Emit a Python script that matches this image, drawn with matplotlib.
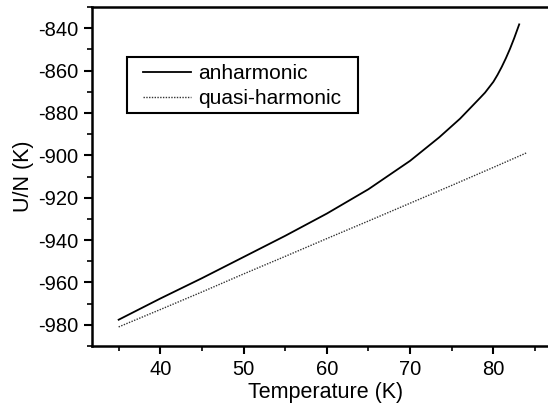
import matplotlib
matplotlib.use("Agg")
import matplotlib.pyplot as plt
from matplotlib.patches import Rectangle
from matplotlib.ticker import MultipleLocator

# values
T_anh = [35, 40, 45, 50, 55, 60, 65, 70, 73.5, 76, 78.4, 79, 80, 80.5,
         81, 81.5, 82, 82.5, 83.1]
U_anh = [-977.6, -967.6, -958.0, -948.0, -938.0, -927.5, -916.0, -902.6,
         -891.5, -882.7, -872.9, -870.4, -865.3, -862.0, -858.3, -854.2,
         -849.7, -844.7, -838.2]

T_qh = [35, 40, 45, 50, 55, 60, 65, 70, 75, 80, 84]
U_qh = [-981.0, -972.8, -964.5, -956.0, -947.7, -939.3, -931.0, -922.6,
        -914.2, -905.7, -898.8]

labels = ["anharmonic", "quasi-harmonic"]

plt.rcParams["font.family"] = ["Liberation Sans", "DejaVu Sans"]
plt.rcParams["axes.unicode_minus"] = False

W, H = 548, 408
fig = plt.figure(figsize=(W / 100, H / 100), dpi=100)
ax = fig.add_axes([92 / W, 62 / H, 468 / W, 339 / H])

ax.plot(T_anh, U_anh, color="black", lw=1.3, label=labels[0])
ax.plot(T_qh, U_qh, color="#333333", lw=1.0, ls=(0, (1, 1)), label=labels[1])

ax.set_xlim(31.8, 88)
ax.set_ylim(-990, -830)

ax.xaxis.set_major_locator(MultipleLocator(10))
ax.xaxis.set_minor_locator(MultipleLocator(5))
ax.yaxis.set_major_locator(MultipleLocator(20))
ax.yaxis.set_minor_locator(MultipleLocator(10))

ax.tick_params(which="major", direction="out", length=6, width=1.5,
               labelsize=14.5, pad=4, top=False, right=False)
ax.tick_params(which="minor", direction="out", length=3.5, width=1.2,
               top=False, right=False)

for side in ["left", "bottom", "top", "right"]:
    ax.spines[side].set_linewidth(1.8)

ax.set_xlabel("Temperature (K)", fontsize=15.5, labelpad=2)
ax.set_ylabel("U/N (K)", fontsize=15.5, labelpad=3)

# legend without its own frame, box drawn separately
leg = ax.legend(loc="upper left", bbox_to_anchor=(143 / W, 1 - 64 / H),
                bbox_transform=fig.transFigure,
                fontsize=15, frameon=False,
                handlelength=2.3, handletextpad=0.35, borderpad=0,
                labelspacing=0.3, borderaxespad=0)
fig.patches.append(Rectangle((127 / W, 1 - 113 / H), 231 / W, 56 / H,
                             transform=fig.transFigure, fill=False,
                             edgecolor="black", linewidth=1.5))

plt.savefig("out.png", dpi=100)
plt.close()
